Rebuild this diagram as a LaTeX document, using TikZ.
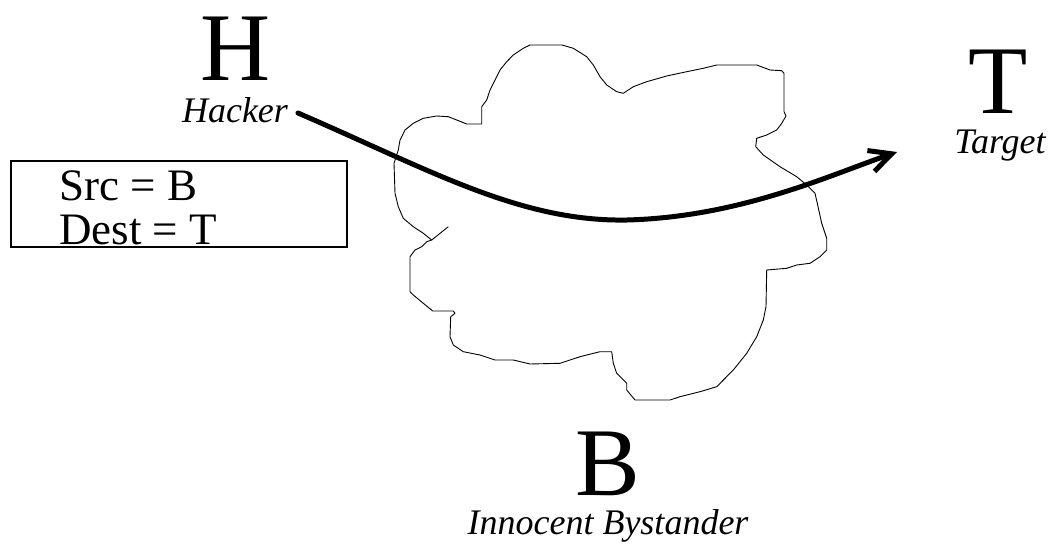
\documentclass[tikz,border=0pt]{standalone}
\usepackage{fontspec}
\setmainfont{Liberation Serif}
\usetikzlibrary{arrows.meta}

\begin{document}
\begin{tikzpicture}
[x=1pt,y=-1pt,
  letterDecorate/.style={font=\fontsize{97}{97}\selectfont,anchor=base,inner sep=0pt},
  labelDecorate/.style={font=\fontsize{36}{36}\selectfont\itshape,anchor=base,inner sep=0pt},
  packetDecorate/.style={font=\fontsize{45}{45}\selectfont,anchor=base west,inner sep=0pt},
  boxDecorate/.style={draw,line width=1.2pt,minimum width=336pt,minimum height=86pt,inner sep=0pt},
  cloudDecorate/.style={line width=0.9pt,line join=round},
  arrowDecorate/.style={line width=5pt,line cap=round,line join=round,
    -{Straight Barb[length=22pt,width=22pt]}}]
\useasboundingbox (0,0) rectangle (1051,543);
%% hosts
\foreach \nodename/\letter/\x/\y in {
  hacker/H/236/80,
  target/T/998/113,
  bystander/B/608/495}
{
  \node (\nodename) at (\x,\y) [letterDecorate] {\letter};
}
%% host labels
\foreach \nodename/\text/\x/\y in {
  hackerlabel/Hacker/235/122,
  targetlabel/Target/1000/153,
  bystanderlabel/Innocent Bystander/608/534}
{
  \node (\nodename) at (\x,\y) [labelDecorate] {\text};
}
%% spoofed packet
\node (packet) at (179,204) [boxDecorate] {};
\node (src) at (59,200) [packetDecorate] {Src = B};
\node (dest) at (59,244) [packetDecorate] {Dest = T};
%% network cloud
\draw[cloudDecorate] plot coordinates {
  (530,45) (562,45) (573.3,48.3) (586.7,56.7) (593.3,65) (600,76.7)
  (606.7,85) (616.7,91.7) (623.3,93.3) (633.3,86.7) (646.7,81.7)
  (666.7,76) (686.7,71.7) (703.3,68.3) (716.7,65) (756.7,65) (770,70)
  (781.7,70.7) (784,73.3) (784,111.7) (786,116) (781.7,123.3)
  (776.7,130) (766.7,135) (756.7,138.3) (755.7,146.7) (763.3,155)
  (780,166.7) (796.7,176.7) (806.7,185) (815,193.3) (817.3,203.3)
  (821.7,223.3) (826.7,238.3) (826.7,250) (820,256.7) (810,263.3)
  (796.7,265) (786.7,268.3) (766.7,270) (766,306.7) (763.3,320)
  (756.7,336.7) (746.7,353.3) (733.3,370) (716.7,386.7) (700,391.7)
  (680,396.7) (670,400) (635,400) (626.7,390) (626.7,383.3)
  (616.7,373.3) (613.3,363.3) (611.7,351.7) (600,351.7) (580,356.7)
  (560,363.3) (530,364) (513.3,360) (495,360) (480,355) (463.3,351.7)
  (453.3,345) (450,336.7) (450.7,316.7) (455,313.3) (453.3,311)
  (432.7,311) (423.3,303.3) (413.3,295) (410,291.7) (410,256.7)
  (415,250) (421.7,246.7) (426.7,241.7) (431.7,240) (423.3,233.3)
  (413.3,226.7) (403.3,218.3) (398.3,206.7) (395,193.3) (394,163.3)
  (398.3,150) (400,140) (405,130) (413.3,123.3) (423.3,118.3)
  (436.7,116) (448.3,116.7) (456.7,120) (466.7,124) (481.7,124)
  (481.7,106.7) (486.7,100) (490,90) (495,80) (500,70) (506.7,61.7)
  (513.3,55) (523.3,48.3) (530,45)};
\draw[cloudDecorate] (431.7,240) -- (448.3,226.7);
%% attack path
\coordinate (arrowstart) at (298,113);
\coordinate (arrowtip) at (897,152);
\draw[arrowDecorate] (arrowstart) .. controls (430,170) and (520,222) .. (627,220)
  .. controls (740,217) and (830,175) .. (arrowtip);
\end{tikzpicture}
\end{document}
